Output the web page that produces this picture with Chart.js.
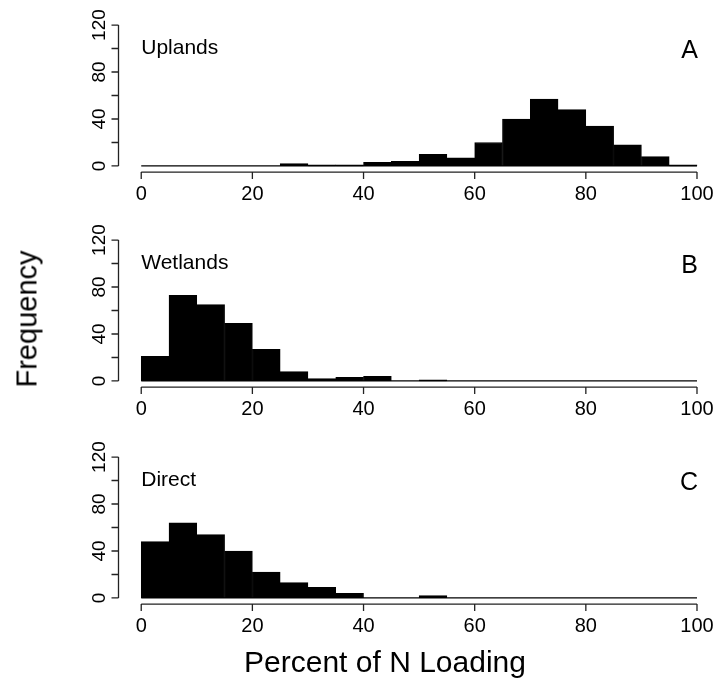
<!DOCTYPE html>
<html>
<head>
<meta charset="utf-8">
<script src="https://cdn.jsdelivr.net/npm/chart.js@4.4.1/dist/chart.umd.min.js"></script>
<style>
  html, body { margin: 0; padding: 0; background: #fff; overflow: hidden; }
  body { width: 717px; height: 687px; position: relative; font-family: "Liberation Sans", Arial, sans-serif; }
  canvas { position: absolute; left: 0; }
  .title { position: absolute; white-space: nowrap; line-height: 1; color: #000; font-size: 30px; }
</style>
</head>
<body>
<canvas id="pA" width="717" height="215" style="top:0px"></canvas>
<canvas id="pB" width="717" height="215" style="top:215px"></canvas>
<canvas id="pC" width="717" height="215" style="top:432px"></canvas>
<div class="title" id="ytitle" style="left:27px; top:319px; font-size:29px; transform: translate(-50%,-50%) rotate(-90deg);">Frequency</div>
<div class="title" id="xtitle" style="left:385px; top:647px; transform: translateX(-50%);">Percent of N Loading</div>
<script>
// ---- data ----
const binEdges = [0, 5, 10, 15, 20, 25, 30, 35, 40, 45, 50, 55, 60, 65, 70, 75, 80, 85, 90, 95, 100];
const uplandsCounts  = [0, 0, 0, 0, 0, 2, 1, 1, 3, 4, 10, 7, 20, 40, 57, 48, 34, 18, 8, 1];
const wetlandsCounts = [21, 73, 65, 49, 27, 8, 2, 3, 4, 0, 1, 0, 0, 0, 0, 0, 0, 0, 0, 0];
const directCounts   = [48, 64, 54, 40, 22, 13, 9, 4, 0, 0, 2, 0, 0, 0, 0, 0, 0, 0, 0, 0];
const panelNames   = ["Uplands", "Wetlands", "Direct"];
const panelLetters = ["A", "B", "C"];
const xTickValues = [0, 20, 40, 60, 80, 100];
const yTickValues = [0, 20, 40, 60, 80, 100, 120];
const yTickLabels = ["0", "", "40", "", "80", "", "120"];

const FONT = '"Liberation Sans", Arial, sans-serif';
const AXIS_COLOR = '#222';

function histData(counts) {
  return counts.map((c, i) => ({ x: (binEdges[i] + binEdges[i + 1]) / 2, y: c }));
}

const rAxesPlugin = {
  id: 'rAxes',
  afterDatasetsDraw(chart, args, opts) {
    const ctx = chart.ctx;
    const xs = chart.scales.x, ys = chart.scales.y;
    const ca = chart.chartArea;
    const x0 = xs.getPixelForValue(binEdges[0]);
    const x1 = xs.getPixelForValue(binEdges[binEdges.length - 1]);
    const yb = ys.getPixelForValue(0);
    ctx.save();
    // histogram baseline (zero-height bins)
    ctx.strokeStyle = '#000';
    ctx.lineWidth = 1.2;
    ctx.beginPath();
    ctx.moveTo(x0, yb); ctx.lineTo(x1, yb);
    ctx.stroke();

    ctx.strokeStyle = AXIS_COLOR;
    ctx.lineWidth = 1.3;
    // y axis
    const yl = ca.left - 0.5;
    const yTop = ys.getPixelForValue(yTickValues[yTickValues.length - 1]);
    ctx.beginPath();
    ctx.moveTo(yl, yb); ctx.lineTo(yl, yTop);
    yTickValues.forEach(v => {
      const p = ys.getPixelForValue(v);
      ctx.moveTo(yl, p); ctx.lineTo(yl - 7, p);
    });
    ctx.stroke();
    ctx.fillStyle = '#000';
    ctx.font = '19px ' + FONT;
    ctx.textAlign = 'center';
    ctx.textBaseline = 'middle';
    yTickValues.forEach((v, i) => {
      if (!yTickLabels[i]) return;
      const p = ys.getPixelForValue(v);
      ctx.save();
      ctx.translate(yl - 19, p);
      ctx.rotate(-Math.PI / 2);
      ctx.fillText(yTickLabels[i], 0, 0);
      ctx.restore();
    });

    // x axis
    const xa = ca.bottom + 0.5;
    ctx.beginPath();
    ctx.moveTo(x0, xa); ctx.lineTo(x1, xa);
    xTickValues.forEach(v => {
      const p = xs.getPixelForValue(v);
      ctx.moveTo(p, xa); ctx.lineTo(p, xa + 7);
    });
    ctx.stroke();
    ctx.font = '20px ' + FONT;
    ctx.textBaseline = 'middle';
    xTickValues.forEach(v => {
      const p = xs.getPixelForValue(v);
      ctx.fillText(String(v), p, xa + 22);
    });

    // panel labels
    ctx.textBaseline = 'alphabetic';
    ctx.textAlign = 'left';
    ctx.font = '21px ' + FONT;
    ctx.fillText(opts.name, x0, ca.top + 35);
    ctx.textAlign = 'right';
    ctx.font = '25px ' + FONT;
    ctx.fillText(opts.letter, x1 + 1, ca.top + 39);
    ctx.restore();
  }
};

function makePanel(id, counts, idx) {
  const canvas = document.getElementById(id);
  return new Chart(canvas, {
    type: 'bar',
    data: {
      datasets: [{
        data: histData(counts),
        backgroundColor: '#000',
        borderColor: '#000',
        borderWidth: 1,
        barPercentage: 1.0,
        categoryPercentage: 1.0
      }]
    },
    options: {
      responsive: false,
      animation: false,
      devicePixelRatio: 1,
      layout: { padding: { left: 119, right: 0, top: 19.4, bottom: 215 - 171.6 } },
      plugins: {
        legend: { display: false },
        tooltip: { enabled: false },
        rAxes: { name: panelNames[idx], letter: panelLetters[idx] }
      },
      scales: {
        x: {
          type: 'linear', min: -4, max: 103.6, display: false, offset: false,
          afterBuildTicks: s => { s.ticks = binEdges.map(v => ({ value: v })); }
        },
        y: { type: 'linear', min: -4.8, max: 124.8, display: false }
      }
    },
    plugins: [rAxesPlugin]
  });
}

makePanel('pA', uplandsCounts, 0);
makePanel('pB', wetlandsCounts, 1);
makePanel('pC', directCounts, 2);
</script>
</body>
</html>
